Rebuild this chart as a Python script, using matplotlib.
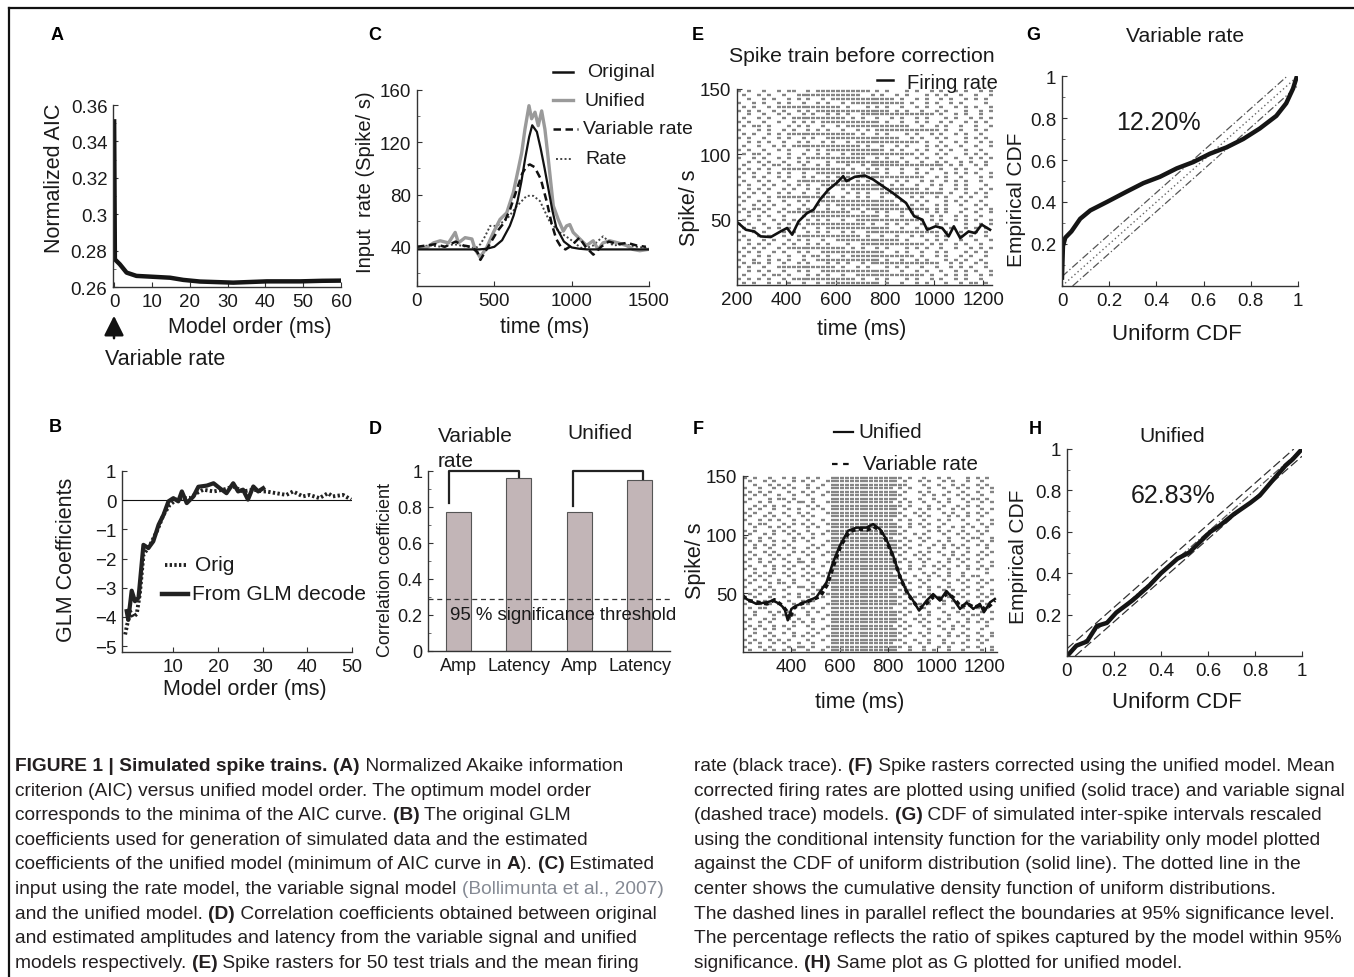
import numpy as np
import matplotlib
matplotlib.use("Agg")
import matplotlib.pyplot as plt
from matplotlib.lines import Line2D
from matplotlib.ticker import MultipleLocator
from matplotlib.font_manager import fontManager, FontProperties

# ---------------- data ----------------
# A: normalized AIC vs model order
aic_order = [0, 0.2, 1.5, 3.3, 5.9, 9.5, 14.8, 18.3, 22.7, 31.5, 40.4, 49.2, 55, 59.8]
aic_value = [0.351, 0.2752, 0.2725, 0.2679, 0.2661, 0.2657, 0.2651, 0.2639, 0.263, 0.2624,
             0.2631, 0.2631, 0.2634, 0.2635]

# B: GLM coefficients
glm_orig_x = [-0.8, 0.3, 1.0, 1.8, 2.5, 3.3, 4.8, 6.3, 7.8, 9.2, 10.7, 12.2, 13.7, 15.2, 16.7,
              19.0, 21.2, 23.4, 25.6, 27.9, 30.1, 30.8, 33.0, 35.3, 36.8, 39.0, 40.5, 42.7,
              44.6, 45.7, 48.0, 49.8]
glm_orig_y = [-4.6, -3.8, -4.0, -3.9, -3.2, -1.87, -1.53, -1.07, -0.5, -0.16, 0.02, 0.07, 0.07,
              0.24, 0.36, 0.3, 0.36, 0.47, 0.3, 0.36, 0.3, 0.3, 0.24, 0.18, 0.3, 0.13, 0.18,
              0.07, 0.24, 0.13, 0.18, 0.02]
glm_dec_x = [-0.45, -0.1, 0.67, 1.4, 2.2, 3.3, 4.4, 5.5, 6.7, 7.8, 8.9, 10.0, 11.1, 11.9, 13.0,
             14.5, 15.6, 17.5, 19.0, 20.4, 21.9, 23.4, 24.5, 25.6, 26.7, 27.9, 29.0, 30.1]
glm_dec_y = [-3.8, -4.1, -3.1, -3.46, -3.34, -1.53, -1.64, -1.41, -0.84, -0.5, -0.04, 0.07,
             -0.04, 0.3, -0.1, 0.13, 0.46, 0.5, 0.58, 0.41, 0.24, 0.58, 0.3, 0.36, 0.02, 0.47,
             0.3, 0.41]

# C: input rate estimates
orig_t = [0, 100, 200, 300, 400, 450, 500, 550, 600, 625, 650, 675, 700, 725, 745, 775, 800,
          825, 850, 875, 900, 950, 1000, 1050, 1100, 1500]
orig_v = [38, 38, 38, 38, 38, 38.5, 40, 45, 56, 64, 75, 90, 108, 124, 133, 128, 115, 100, 84,
          68, 55, 44, 39.5, 38.5, 38, 38]
unif_t = [10, 65, 107, 150, 204, 247, 268, 311, 355, 376, 408, 451, 494, 537, 580, 623, 655,
          677, 698, 724, 741, 763, 784, 806, 827, 849, 881, 913, 946, 967, 988, 1010, 1053,
          1096, 1139, 1171, 1203, 1246, 1300, 1354, 1397, 1440, 1494]
unif_v = [39.5, 39.5, 43, 44.6, 43, 51, 43, 47, 46, 38, 32, 39.5, 51, 61, 66, 81.6, 99.5, 112,
          130, 148, 138, 143, 132.7, 144, 130, 107, 71.4, 61, 52, 56, 57, 51, 46, 41, 44.6, 38,
          43, 44.6, 43, 41, 38, 37, 38]
var_t = [0, 60, 120, 180, 250, 300, 350, 390, 410, 440, 480, 520, 560, 600, 640, 680, 710, 730,
         760, 800, 840, 870, 900, 930, 960, 1000, 1050, 1090, 1140, 1190, 1240, 1300, 1360,
         1420, 1480]
var_v = [40, 41, 42, 40, 44, 41, 40, 36, 30, 36, 44, 52, 58, 68, 82, 96, 102, 103, 101, 92, 74,
         58, 46, 40, 38, 41, 47, 40, 34, 40, 44, 42, 43, 41, 40]
rate_t = [0, 80, 160, 240, 320, 380, 410, 440, 473, 516, 580, 645, 709, 752, 795, 860, 924,
          988, 1040, 1075, 1139, 1203, 1268, 1340, 1420, 1490]
rate_v = [40, 41, 40, 42, 40, 39, 42, 48, 56, 56, 61, 71, 79, 79, 75, 58.7, 51, 46, 41, 38.2,
          41, 48, 41, 42, 40, 39]

# E: rasters before correction (50 trials, 20 ms bins from 200 ms) and firing rate
raster_before = [
    "x.x. .x.. x.xx ..x. xxxx xxxx xxx. x.x. ..x. x..x .x.. x.x. .x.x",
    ".x.. x.x. .x.. xxxx xxxx xxxx x..x .x.. x.x. ..x. x.x. .x.. x..x",
    "..x. .x.x ..x. x.x. .x.x xxxx xxxx xxxx .x.. x.x. .x.x ..x. x.x.",
    "x..x .x.. x.x. .x.. x.x. .x.x xxxx xxxx xx.x ..x. x..x .x.. ..x.",
    ".x.x ..x. xxxx xxxx xxxx x.x. ..x. x.x. .x.. x.x. .x.. x.x. x..x",
    "x.x. x..x .x.. x.x. xxxx xxxx xxxx xxx. x.x. .x.. x.x. ..x. .x.x",
    "..x. .x.. x.x. .x.x ..x. x.x. .xxx xxxx xxxx xxxx .x.. x.x. .x..",
    ".x.. x.x. .x.x xxxx xxxx xx.x .x.. x..x .x.. x.x. ..x. x..x .x.x",
    "x.x. .x.. x..x .x.x .xxx xxxx xxxx x.x. .x.. x.x. .x.x ..x. x.x.",
    ".x.x x.x. ..x. x.x. .x.. x.xx xxxx xxxx xxx. .x.. x.x. .x.. x..x",
    "x... x.x. .x.x ..x. x.x. .x.. x.x. xxxx xxxx xxxx x.x. .x.. x.x.",
    ".x.x ..x. x.xx xxxx xxxx xxxx .x.. x.x. ..x. x..x .x.. x.x. .x..",
    "x.x. .x.. x.x. .x.x ..xx xxxx xxxx xxxx x..x .x.. x.x. ..x. x.x.",
    "..x. x.x. .x.. x.x. .x.x ..x. xxxx xxxx xxxx x.x. .x.. x.x. .x.x",
    ".x.. x..x .x.x xxxx xxxx xxxx x.x. .x.. x.x. ..x. x.x. .x.. x..x",
    "x.x. .x.. x.x. ..x. x.xx xxxx xxxx xx.x .x.. x.x. .x.x ..x. .x..",
    ".x.x x.x. ..x. .x.. x.x. .x.x xxxx xxxx xxxx .x.. x.x. ..x. x.x.",
    "x..x .x.. x.x. x.xx xxxx xxxx xx.. x.x. .x.. x.x. .x.. x..x .x.x",
    "..x. x.x. .x.. x.x. ..x. xxxx xxxx xxxx x.x. .x.. x.x. .x.x ..x.",
    ".x.. .x.x x.x. .x.. x.x. ..x. .x.x xxxx xxxx xxxx xx.x .x.. x.x.",
    "x.x. x.x. .xxx xxxx xxxx xx.x ..x. x.x. .x.. x..x .x.. x.x. .x..",
    ".x.x ..x. x.x. .x.. xxxx xxxx xxxx x.x. .x.. x.x. ..x. x.x. x..x",
    "x..x .x.. x.x. .x.x ..x. x.x. xxxx xxxx xxxx xx.. x.x. .x.. .x.x",
    ".x.. x.x. .x.. xxxx xxxx xxx. x.x. .x.. x.x. .x.x ..x. x.x. .x..",
    "x.x. .x.x ..x. x.x. .xxx xxxx xxxx xx.x .x.. x..x .x.. x.x. ..x.",
    "..x. x.x. .x.x ..x. x.x. .x.x xxxx xxxx xxxx x.x. .x.. x.x. .x.x",
    ".x.x .x.. x.x. .x.. x.x. ..x. x.x. .xxx xxxx xxxx xx.x ..x. x.x.",
    "x.x. ..x. xxxx xxxx xxxx .x.. x.x. .x.. x..x .x.. x.x. .x.x ..x.",
    ".x.. x.x. .x.. x.x. .xxx xxxx xxxx xxxx .x.. x.x. ..x. x.x. .x..",
    "x..x .x.x ..x. .x.. x.x. xxxx xxxx xxxx x..x .x.. x.x. .x.. x.x.",
    ".x.x x.x. .x.. x.x. ..x. .x.x x.xx xxxx xxxx xxx. x.x. ..x. .x.x",
    "x.x. .x.. x.xx xxxx xxxx xxx. .x.. x.x. .x.x ..x. x.x. .x.. x..x",
    "..x. x.x. .x.. .x.x xxxx xxxx xxxx x.x. .x.. x..x .x.. x.x. .x..",
    ".x.. x..x .x.x ..x. x.x. .x.. xxxx xxxx xxxx xx.x .x.. x.x. x..x",
    "x.x. .x.. x.x. x.xx xxxx xxxx xx.x ..x. x.x. .x.. x.x. ..x. .x.x",
    ".x.x ..x. x.x. .x.. x.xx xxxx xxxx xxx. .x.. x.x. .x.x ..x. x.x.",
    "x..x .x.. .x.x ..x. x.x. .x.x ..xx xxxx xxxx xxxx x.x. .x.. x.x.",
    ".x.. x.x. .x.. xxxx xxxx xxxx x.x. .x.. x..x .x.. x.x. .x.x ..x.",
    "x.x. .x.x ..x. x.x. .x.. xxxx xxxx xxxx x.x. ..x. x.x. .x.. x..x",
    "..x. x.x. .x.x ..x. x.x. ..x. .xxx xxxx xxxx xx.x .x.. x.x. .x..",
    ".x.x .x.. x.xx xxxx xxxx xx.x .x.. x.x. ..x. x.x. .x.. x..x .x.x",
    "x.x. x..x .x.. x.x. .xxx xxxx xxxx xx.. x.x. .x.. x.x. ..x. x.x.",
    ".x.. x.x. ..x. .x.x x.x. .x.x xxxx xxxx xxxx .x.. x.x. .x.x ..x.",
    "x..x ..x. x.x. .x.. xxxx xxxx xxxx x.x. .x.. x.x. ..x. x.x. .x..",
    ".x.x x.x. .x.. x.x. ..x. x.x. .x.x xxxx xxxx xxxx x..x .x.. x.x.",
    "x.x. .x.. xxxx xxxx xxxx .x.. x.x. ..x. x.x. .x.. x..x .x.x ..x.",
    "..x. x.x. .x.. x.x. .xxx xxxx xxxx xxx. .x.. x.x. .x.. x.x. x..x",
    ".x.. .x.x x.x. ..x. x.x. .x.. xxxx xxxx xxxx xx.x ..x. x.x. .x.x",
    "x.x. x.x. .x.x xxxx xxxx xxxx .x.. x.x. ..x. x..x .x.. x.x. .x..",
    ".x.x ..x. x.x. .x.. x.xx xxxx xxxx x.x. .x.. x.x. ..x. .x.x x.x.",
]
rate_before_t = [205, 236, 270, 296, 337, 377, 403, 424, 450, 484, 511, 537, 571, 604, 631, 644,
                 678, 718, 752, 792, 832, 886, 919, 952, 972, 1006, 1033, 1059, 1080, 1106,
                 1140, 1167, 1193, 1227]
rate_before_v = [47.4, 42.3, 41, 37.2, 36.7, 41, 43.6, 38.5, 48.7, 55, 57.7, 65.4, 73, 78,
                 83.3, 79.5, 82.8, 83.8, 80.8, 75.6, 70.5, 62.8, 52.6, 50, 42.3, 44.9, 43.6,
                 37.2, 44.9, 35.9, 41, 39.7, 46.2, 42.3]

# F: rasters after correction and corrected rates
raster_after = [
    "x.x. .x.. x.x. .x.x ..xx xxxx xxxx xxxx x.x. .x.. x.x. ..x. x.x.",
    ".x.. x.x. ..x. x.x. .xxx xxxx xxxx xxxx .x.. x.x. .x.x ..x. .x..",
    "..x. .x.x .x.. .x.. x.xx xxxx xxxx xxxx xx.. .x.. x..x .x.. x.x.",
    "x..x ..x. x.x. .x.x ..xx xxxx xxxx xxx. x.x. ..x. .x.. x.x. .x.x",
    ".x.x .x.. .x.. x.x. .xxx xxxx xxxx xxxx .x.. x.x. ..x. .x.. x..x",
    "x.x. x..x ..x. .x.. x.xx xxxx xxxx xxxx x... .x.x .x.. x.x. .x..",
    ".x.. .x.x x.x. ..x. ..xx xxxx xxxx xxxx .x.. x..x ..x. .x.x x.x.",
    "x..x .x.. .x.x x.x. .xxx xxxx xxxx xxx. x.x. .x.. x.x. ..x. .x.x",
    "..x. x.x. x... .x.x ..xx xxxx xxxx xxxx x.x. ..x. .x.. x.x. x...",
    ".x.x ..x. .x.x ..x. x.xx xxxx xxxx xxxx .x.. x.x. x..x .x.. .x.x",
    "x.x. .x.. x..x .x.. .xxx xxxx xxxx xxxx x..x .x.. .x.x ..x. x.x.",
    ".x.. x.x. .x.. x.x. ..xx xxxx xxxx xxxx .x.. x.x. ..x. x.x. .x..",
    "x..x .x.x ..x. .x.. x.xx xxxx xxxx xxx. x.x. .x.. x.x. .x.. x..x",
    ".x.x x... x.x. x.x. .xxx xxxx xxxx xxxx ..x. x.x. .x.. ..x. .x.x",
    "..x. .x.x .x.. .x.x ..xx xxxx xxxx xxxx x.x. .x.. x..x .x.x ..x.",
    "x.x. ..x. x.x. .x.. .xxx xxxx xxxx xxxx .x.. ..x. x.x. .x.. x.x.",
    ".x.. x.x. .x.x ..x. x.xx xxxx xxxx xxxx x..x .x.. .x.. x.x. .x..",
    "x..x .x.. ..x. x.x. ..xx xxxx xxxx xxx. .x.. x.x. ..x. .x.x x..x",
    ".x.x ..x. x.x. .x.. .xxx xxxx xxxx xxxx x.x. .x.. x.x. ..x. .x.x",
    "x.x. x.x. .x.. ..x. x.xx xxxx xxxx xxxx .x.. x..x .x.x .x.. x.x.",
    "..x. .x.. x.x. .x.x ..xx xxxx xxxx xxxx x.x. ..x. .x.. x.x. ..x.",
    ".x.. x.x. ..x. x.x. .xxx xxxx xxxx xxxx .x.. x.x. x..x ..x. .x.x",
    "x.x. .x.x .x.. .x.. x.xx xxxx xxxx xxx. x..x .x.. .x.x .x.. x.x.",
    ".x.x ..x. x..x ..x. ..xx xxxx xxxx xxxx .x.. x.x. ..x. x.x. .x..",
    "x..x .x.. .x.x x.x. .xxx xxxx xxxx xxxx x.x. .x.. x.x. .x.. x..x",
    ".x.. x.x. x.x. .x.. x.xx xxxx xxxx xxxx ..x. .x.x .x.. x.x. .x.x",
    "x.x. ..x. .x.. x.x. ..xx xxxx xxxx xxxx x.x. x... x.x. ..x. x.x.",
    "..x. x.x. x.x. .x.x .xxx xxxx xxxx xxx. .x.. .x.x ..x. .x.. ..x.",
    ".x.x .x.. .x.. x.x. x.xx xxxx xxxx xxxx x..x ..x. x.x. .x.x x...",
    "x.x. x..x ..x. .x.. ..xx xxxx xxxx xxxx .x.. x.x. .x.. x.x. .x.x",
    ".x.. .x.x x.x. ..x. .xxx xxxx xxxx xxxx x.x. .x.. ..x. .x.. x.x.",
    "x..x .x.. .x.x x.x. x.xx xxxx xxxx xxxx .x.. x.x. x.x. ..x. .x..",
    "..x. x.x. x... .x.x ..xx xxxx xxxx xxx. x.x. ..x. .x.x .x.. x..x",
    ".x.x ..x. .x.x ..x. .xxx xxxx xxxx xxxx .x.. x.x. ..x. x.x. .x.x",
    "x.x. .x.. x..x .x.. x.xx xxxx xxxx xxxx x..x .x.. x.x. .x.. x.x.",
    ".x.. x.x. .x.. x.x. ..xx xxxx xxxx xxxx .x.. ..x. .x.x ..x. .x..",
    "x..x .x.x ..x. .x.. .xxx xxxx xxxx xxxx x.x. x.x. .x.. x.x. ..x.",
    ".x.x x... x.x. x.x. x.xx xxxx xxxx xxx. .x.. .x.. x..x .x.. x.x.",
    "..x. .x.x .x.. .x.x ..xx xxxx xxxx xxxx x.x. ..x. .x.. x.x. .x.x",
    "x.x. ..x. x.x. .x.. .xxx xxxx xxxx xxxx .x.. x.x. ..x. .x.x x...",
    ".x.. x.x. .x.x ..x. x.xx xxxx xxxx xxxx x..x .x.. x.x. ..x. .x.x",
    "x..x .x.. ..x. x.x. ..xx xxxx xxxx xxxx .x.. x.x. .x.. x.x. x.x.",
    ".x.x ..x. x.x. .x.. .xxx xxxx xxxx xxx. x.x. .x.. x..x .x.. ..x.",
    "x.x. x.x. .x.. ..x. x.xx xxxx xxxx xxxx .x.. ..x. .x.x ..x. .x..",
    "..x. .x.. x.x. .x.x ..xx xxxx xxxx xxxx x.x. x.x. ..x. .x.. x..x",
    ".x.. x.x. ..x. x.x. .xxx xxxx xxxx xxxx .x.. .x.. x.x. x.x. .x.x",
    "x.x. .x.x .x.. .x.. x.xx xxxx xxxx xxxx x..x ..x. .x.. ..x. x.x.",
    ".x.x ..x. x..x ..x. ..xx xxxx xxxx xxx. .x.. x.x. .x.x .x.. .x..",
    "x..x .x.. .x.x x.x. .xxx xxxx xxxx xxxx x.x. .x.. x.x. ..x. x..x",
    ".x.. x.x. x.x. .x.. x.xx xxxx xxxx xxxx ..x. .x.x ..x. .x.. .x.x",
]
unified_after_t = [197, 214, 255, 297, 324, 352, 372, 385, 400, 421, 462, 503, 545, 572, 600,
                   634, 669, 710, 738, 766, 793, 821, 848, 876, 903, 928, 959, 986, 1014, 1041,
                   1069, 1097, 1124, 1152, 1179, 1196, 1221, 1241]
unified_after_v = [49.4, 45.2, 41, 42.3, 43.8, 41, 36.7, 27, 36.7, 39.5, 43, 46.6, 59.3, 76.3,
                   90.5, 103.3, 106, 106, 109, 104.7, 96, 82, 65, 52, 43.8, 35.3, 43.8, 49.4,
                   43.8, 52, 45.2, 36.7, 42.3, 36.7, 41, 33.9, 42.3, 45.2]
variable_after_t = [197, 220, 260, 300, 330, 360, 380, 392, 410, 440, 480, 520, 550, 575, 605,
                    640, 675, 715, 740, 770, 795, 825, 850, 880, 905, 930, 962, 990, 1018, 1045,
                    1072, 1100, 1128, 1155, 1182, 1200, 1225, 1241]
variable_after_v = [48, 44, 42.5, 41, 44.5, 40, 35, 28, 37.5, 41, 44, 47.5, 58, 74, 91, 102.5,
                    105, 104, 107, 103, 94, 79, 63, 50, 42.5, 37, 42, 47.5, 45, 50, 46, 38.5,
                    41, 38, 40, 36, 40.5, 44]

# D: correlation coefficients
d_labels = ["Amp", "Latency", "Amp", "Latency"]
d_values = [0.77, 0.96, 0.77, 0.95]
d_threshold = 0.29

# G / H: KS plots
ks_g_x = [0, 0.004, 0.014, 0.04, 0.077, 0.12, 0.19, 0.275, 0.345, 0.415, 0.486, 0.556, 0.627,
          0.697, 0.768, 0.838, 0.908, 0.95, 0.979, 0.993]
ks_g_y = [0.04, 0.19, 0.23, 0.26, 0.32, 0.36, 0.40, 0.45, 0.49, 0.52, 0.56, 0.59, 0.63, 0.66,
          0.70, 0.75, 0.81, 0.87, 0.94, 0.99]
ks_h_x = [0.007, 0.04, 0.085, 0.127, 0.17, 0.21, 0.28, 0.35, 0.40, 0.47, 0.52, 0.61, 0.65,
          0.71, 0.78, 0.82, 0.88, 0.93, 0.96, 1.0]
ks_h_y = [0.008, 0.05, 0.07, 0.145, 0.16, 0.21, 0.27, 0.34, 0.40, 0.47, 0.50, 0.60, 0.63,
          0.685, 0.74, 0.775, 0.855, 0.92, 0.95, 1.0]
ks_bound_g = 0.045
ks_bound_h = 0.035
pct_g = "12.20%"
pct_h = "62.83%"

# ---------------- figure ----------------
W, H = 1354, 978
plt.rcParams['font.family'] = ['Liberation Sans', 'DejaVu Sans']
fig = plt.figure(figsize=(W / 100, H / 100), dpi=100)
TXT = '#1a1a1a'
TICK = 13.5
LAB = 15.5


def ax_px(l, t, r, b):
    return fig.add_axes([l / W, 1 - b / H, (r - l) / W, (b - t) / H])


def style(ax):
    for s in ['top', 'right']:
        ax.spines[s].set_visible(False)
    for s in ['left', 'bottom']:
        ax.spines[s].set_color('#333333')
        ax.spines[s].set_linewidth(1.0)
    ax.tick_params(direction='in', length=3.5, width=0.8, color='#333333',
                   labelsize=TICK, labelcolor=TXT, pad=4)
    ax.tick_params(which='minor', direction='in', length=2, width=0.6, color='#555555')
    ax.patch.set_alpha(0)


def ft(x, y, s, **kw):
    kw.setdefault('color', TXT)
    return fig.text(x / W, 1 - y / H, s, **kw)


def fline(x1, x2, y, **kw):
    fig.add_artist(Line2D([x1 / W, x2 / W], [1 - y / H, 1 - y / H],
                          transform=fig.transFigure, **kw))


# frame lines
fig.add_artist(Line2D([9 / W, 1.0], [1 - 9 / H, 1 - 9 / H], transform=fig.transFigure,
                      color='#111111', lw=1.6))
fig.add_artist(Line2D([9 / W, 9 / W], [1 - 9 / H, 0], transform=fig.transFigure,
                      color='#111111', lw=1.6))

# panel letters
for lab, x, y in [('A', 57, 35), ('C', 375, 35), ('E', 698, 35), ('G', 1033, 35),
                  ('B', 55, 428), ('D', 375, 430), ('F', 698, 430), ('H', 1035, 430)]:
    ft(x, y, lab, fontsize=13, fontweight='bold', ha='center', va='center', color='#000')

# ---- A ----
axA = ax_px(113, 106, 341, 288)
axA.plot(aic_order, aic_value, color='#151515', lw=3.2, solid_joinstyle='round')
axA.set_xlim(-0.3, 60)
axA.set_ylim(0.26, 0.36)
axA.set_xticks(range(0, 61, 10))
axA.set_yticks([0.26, 0.28, 0.30, 0.32, 0.34, 0.36])
axA.set_yticklabels(['0.26', '0.28', '0.3', '0.32', '0.34', '0.36'])
axA.yaxis.set_minor_locator(MultipleLocator(0.01))
style(axA)
ft(55, 178, 'Normalized AIC', fontsize=LAB, rotation=90, ha='center', va='center')
ft(250, 327, 'Model order (ms)', fontsize=LAB, ha='center', va='center')
ft(105, 360, 'Variable rate', fontsize=LAB, ha='left', va='center')
axA.annotate('', xy=(114, H - 314), xytext=(114, H - 342), xycoords='figure pixels',
             textcoords='figure pixels',
             arrowprops=dict(arrowstyle='-|>,head_width=0.6,head_length=1.2',
                             color='#111', lw=1.8))

# ---- C ----
axC = ax_px(417, 91, 649, 287)
axC.plot(rate_t, rate_v, color='#444444', lw=1.4, ls=(0, (1, 1.2)))
axC.plot(unif_t, unif_v, color='#9a9a9a', lw=2.4)
axC.plot(var_t, var_v, color='#111111', lw=1.8, ls=(0, (3, 1.8)))
axC.plot(orig_t, orig_v, color='#111111', lw=1.6)
axC.set_xlim(0, 1500)
axC.set_ylim(10, 160)
axC.set_xticks([0, 500, 1000, 1500])
axC.set_yticks([40, 80, 120, 160])
axC.yaxis.set_minor_locator(MultipleLocator(20))
style(axC)
ft(366, 182, 'Input  rate (Spike/ s)', fontsize=14.5, rotation=90, ha='center', va='center')
ft(545, 328, 'time (ms)', fontsize=LAB, ha='center', va='center')
fline(553, 573, 73, color='#111', lw=1.8)
fline(553, 573, 101, color='#9a9a9a', lw=2.4)
fline(553, 578, 130, color='#111', lw=1.8, ls=(0, (3, 1.8)))
fline(556, 573, 160, color='#444', lw=1.4, ls=(0, (1, 1.2)))
ft(587, 73, 'Original', fontsize=14, va='center')
ft(585, 101, 'Unified', fontsize=14, va='center')
ft(583, 130, 'Variable rate', fontsize=14, va='center')
ft(585, 160, 'Rate', fontsize=14, va='center')


def draw_raster(ax, rows):
    xs, ys = [], []
    n = len(rows)
    for i, row in enumerate(rows):
        r = row.replace(' ', '')
        for j, c in enumerate(r):
            if c == 'x':
                xs.append(210 + 20 * j)
                ys.append(150 - 150 / n * (i + 0.5))
    ax.plot(xs, ys, ls='none', marker='_', ms=2.8, mew=1.7, color='#858585')


# ---- E ----
axE = ax_px(737, 90, 992, 286)
draw_raster(axE, raster_before)
axE.plot(rate_before_t, rate_before_v, color='#111111', lw=1.9)
axE.set_xlim(200, 1235)
axE.set_ylim(0, 150)
axE.set_xticks([200, 400, 600, 800, 1000, 1200])
axE.set_yticks([50, 100, 150])
style(axE)
ft(862, 57, 'Spike train before correction', fontsize=15.3, ha='center', va='center')
fline(877, 893, 81, color='#111', lw=1.8)
ft(907, 84, 'Firing rate', fontsize=14.5, va='center')
ft(690, 208, 'Spike/ s', fontsize=LAB, rotation=90, ha='center', va='center')
ft(862, 329, 'time (ms)', fontsize=LAB, ha='center', va='center')

# ---- G ----
axG = ax_px(1062, 77, 1298, 287)
u = [0, 1]
axG.plot(u, u, color='#666666', lw=1.0, ls=(0, (1, 2)))
axG.plot([0, 1 - ks_bound_g], [ks_bound_g, 1], color='#555555', lw=0.9, ls=(0, (6, 2, 1, 2)))
axG.plot([ks_bound_g, 1], [0, 1 - ks_bound_g], color='#555555', lw=0.9, ls=(0, (6, 2, 1, 2)))
axG.plot(ks_g_x, ks_g_y, color='#151515', lw=3.2, solid_joinstyle='round')
axG.set_xlim(0, 1)
axG.set_ylim(0, 1)
axG.set_xticks([0, 0.2, 0.4, 0.6, 0.8, 1])
axG.set_xticklabels(['0', '0.2', '0.4', '0.6', '0.8', '1'])
axG.set_yticks([0.2, 0.4, 0.6, 0.8, 1])
axG.set_yticklabels(['0.2', '0.4', '0.6', '0.8', '1'])
axG.yaxis.set_minor_locator(MultipleLocator(0.1))
style(axG)
axG.text(0.41, 0.78, pct_g, fontsize=18, ha='center', va='center', color=TXT)
ft(1185, 37, 'Variable rate', fontsize=15.2, ha='center', va='center')
ft(1017, 200, 'Empirical CDF', fontsize=15, rotation=90, ha='center', va='center')
ft(1177, 335, 'Uniform CDF', fontsize=16, ha='center', va='center')

# ---- B ----
axB = ax_px(122, 472, 352, 653)
axB.axhline(0, color='#111111', lw=0.8)
axB.plot(glm_orig_x, glm_orig_y, color='#222222', lw=2.8, ls=(0, (0.6, 0.6)))
axB.plot(glm_dec_x, glm_dec_y, color='#222222', lw=3.0, solid_joinstyle='round')
axB.set_xlim(-1.5, 50)
axB.set_ylim(-5.2, 1)
axB.set_xticks([10, 20, 30, 40, 50])
axB.set_yticks([-5, -4, -3, -2, -1, 0, 1])
style(axB)
ft(67, 560, 'GLM Coefficients', fontsize=LAB, rotation=90, ha='center', va='center')
ft(245, 689, 'Model order (ms)', fontsize=LAB, ha='center', va='center')
fline(165, 188, 566, color='#222', lw=2.8, ls=(0, (0.6, 0.6)))
fline(162, 188, 595, color='#222', lw=3.2)
ft(195, 566, 'Orig', fontsize=15, va='center')
ft(192, 595, 'From GLM decode', fontsize=15, va='center')

# ---- D ----
axD = ax_px(428, 472, 670, 652)
pos = [1, 2, 3, 4]
axD.bar(pos, d_values, width=0.41, color='#c2b5b7', edgecolor='#555555', linewidth=0.8,
        zorder=2)
axD.axhline(d_threshold, color='#333333', lw=0.9, ls=(0, (4, 3)), zorder=3)
axD.set_xlim(0.5, 4.5)
axD.set_ylim(0, 1)
axD.set_xticks(pos)
axD.set_xticklabels(d_labels)
axD.set_yticks([0, 0.2, 0.4, 0.6, 0.8, 1])
axD.set_yticklabels(['0', '0.2', '0.4', '0.6', '0.8', '1'])
axD.yaxis.set_minor_locator(MultipleLocator(0.1))
style(axD)
axD.tick_params(axis='x', length=0, labelsize=13)
axD.tick_params(axis='y', labelsize=13)
axD.text(0.86, 0.2, '95 % significance threshold', fontsize=13.4, ha='left', va='center',
         color=TXT, zorder=4)
for (xa, ya, xb, yb) in [(0.85, 0.825, 2.0, 0.965), (2.9, 0.806, 4.05, 0.955)]:
    axD.plot([xa, xa, xb, xb], [ya, 1.0, 1.0, yb], color='#222222', lw=1.6, clip_on=False,
             zorder=5)
ft(438, 437, 'Variable', fontsize=15, ha='left', va='center')
ft(438, 462, 'rate', fontsize=15, ha='left', va='center')
ft(600, 434, 'Unified', fontsize=15, ha='center', va='center')
ft(386, 570, 'Correlation coefficient', fontsize=13, rotation=90, ha='center', va='center')

# ---- F ----
axF = ax_px(743, 477, 997, 653)
draw_raster(axF, raster_after)
axF.plot(unified_after_t, unified_after_v, color='#111111', lw=1.8)
axF.plot(variable_after_t, variable_after_v, color='#111111', lw=2.6, ls=(0, (1.2, 1.0)))
axF.set_xlim(200, 1250)
axF.set_ylim(0, 150)
axF.set_xticks([400, 600, 800, 1000, 1200])
axF.set_yticks([50, 100, 150])
style(axF)
fline(834, 853, 433, color='#111', lw=1.6)
ft(858, 433, 'Unified', fontsize=14.8, va='center')
fline(832, 852, 465, color='#111', lw=1.6, ls=(0, (2.5, 2.5)))
ft(863, 465, 'Variable rate', fontsize=14.8, va='center')
ft(696, 561, 'Spike/ s', fontsize=LAB, rotation=90, ha='center', va='center')
ft(860, 703, 'time (ms)', fontsize=LAB, ha='center', va='center')

# ---- H ----
axH = ax_px(1067, 450, 1302, 657)
axH.plot(u, u, color='#555555', lw=0.9, ls=(0, (6, 2, 1, 2)))
axH.plot([0, 1 - ks_bound_h], [ks_bound_h, 1], color='#333333', lw=0.9, ls=(0, (7, 3)))
axH.plot([ks_bound_h, 1], [0, 1 - ks_bound_h], color='#333333', lw=0.9, ls=(0, (7, 3)))
axH.plot(ks_h_x, ks_h_y, color='#151515', lw=3.2, solid_joinstyle='round')
axH.set_xlim(0, 1)
axH.set_ylim(0, 1)
axH.set_xticks([0, 0.2, 0.4, 0.6, 0.8, 1])
axH.set_xticklabels(['0', '0.2', '0.4', '0.6', '0.8', '1'])
axH.set_yticks([0.2, 0.4, 0.6, 0.8, 1])
axH.set_yticklabels(['0.2', '0.4', '0.6', '0.8', '1'])
axH.yaxis.set_minor_locator(MultipleLocator(0.1))
style(axH)
axH.text(0.45, 0.78, pct_h, fontsize=18, ha='center', va='center', color=TXT)
ft(1172, 437, 'Unified', fontsize=15.2, ha='center', va='center')
ft(1018, 557, 'Empirical CDF', fontsize=15, rotation=90, ha='center', va='center')
ft(1177, 703, 'Uniform CDF', fontsize=16, ha='center', va='center')

# ---------------- caption ----------------
names = {f.name for f in fontManager.ttflist}
cap_family = 'Liberation Sans Narrow' if 'Liberation Sans Narrow' in names else 'Liberation Sans'
renderer = fig.canvas.get_renderer()


def seg_width(s, size, bold=False):
    fp = FontProperties(family=cap_family, size=size, weight='bold' if bold else 'normal')
    w1 = renderer.get_text_width_height_descent('|' + s + '|', fp, ismath=False)[0]
    w0 = renderer.get_text_width_height_descent('||', fp, ismath=False)[0]
    return w1 - w0


left_lines = [
    [("FIGURE 1 | Simulated spike trains. (A)", 'b'), (" Normalized Akaike information", 'n')],
    [("criterion (AIC) versus unified model order. The optimum model order", 'n')],
    [("corresponds to the minima of the AIC curve. ", 'n'), ("(B)", 'b'),
     (" The original GLM", 'n')],
    [("coefficients used for generation of simulated data and the estimated", 'n')],
    [("coefficients of the unified model (minimum of AIC curve in ", 'n'), ("A", 'b'),
     ("). ", 'n'), ("(C)", 'b'), (" Estimated", 'n')],
    [("input using the rate model, the variable signal model ", 'n'),
     ("(Bollimunta et al., 2007)", 'c')],
    [("and the unified model. ", 'n'), ("(D)", 'b'),
     (" Correlation coefficients obtained between original", 'n')],
    [("and estimated amplitudes and latency from the variable signal and unified", 'n')],
    [("models respectively. ", 'n'), ("(E)", 'b'),
     (" Spike rasters for 50 test trials and the mean firing", 'n')],
]
right_lines = [
    [("rate (black trace). ", 'n'), ("(F)", 'b'),
     (" Spike rasters corrected using the unified model. Mean", 'n')],
    [("corrected firing rates are plotted using unified (solid trace) and variable signal", 'n')],
    [("(dashed trace) models. ", 'n'), ("(G)", 'b'),
     (" CDF of simulated inter-spike intervals rescaled", 'n')],
    [("using the conditional intensity function for the variability only model plotted", 'n')],
    [("against the CDF of uniform distribution (solid line). The dotted line in the", 'n')],
    [("center shows the cumulative density function of uniform distributions.", 'n')],
    [("The dashed lines in parallel reflect the boundaries at 95% significance level.", 'n')],
    [("The percentage reflects the ratio of spikes captured by the model within 95%", 'n')],
    [("significance. ", 'n'), ("(H)", 'b'), (" Same plot as G plotted for unified model.", 'n')],
]


def line_width(segs, size):
    return sum(seg_width(s, size, st == 'b') for s, st in segs)


ref = 12.0
sz_l = ref * 643 / line_width(left_lines[6], ref)
sz_r = ref * 656 / line_width(right_lines[1], ref)
cap_size = 0.5 * (sz_l + sz_r)


def draw_caption(x0, lines):
    for k, segs in enumerate(lines):
        y = 771 + 24.6 * k
        cx = x0
        for s, st in segs:
            kw = dict(fontsize=cap_size, family=cap_family, va='baseline', ha='left',
                      color='#231f20')
            if st == 'b':
                kw['fontweight'] = 'bold'
            if st == 'c':
                kw['color'] = '#858a94'
            fig.text(cx / W, 1 - y / H, s, **kw)
            cx += seg_width(s, cap_size, st == 'b')


draw_caption(15, left_lines)
draw_caption(694, right_lines)

fig.savefig('out.png', dpi=100)
